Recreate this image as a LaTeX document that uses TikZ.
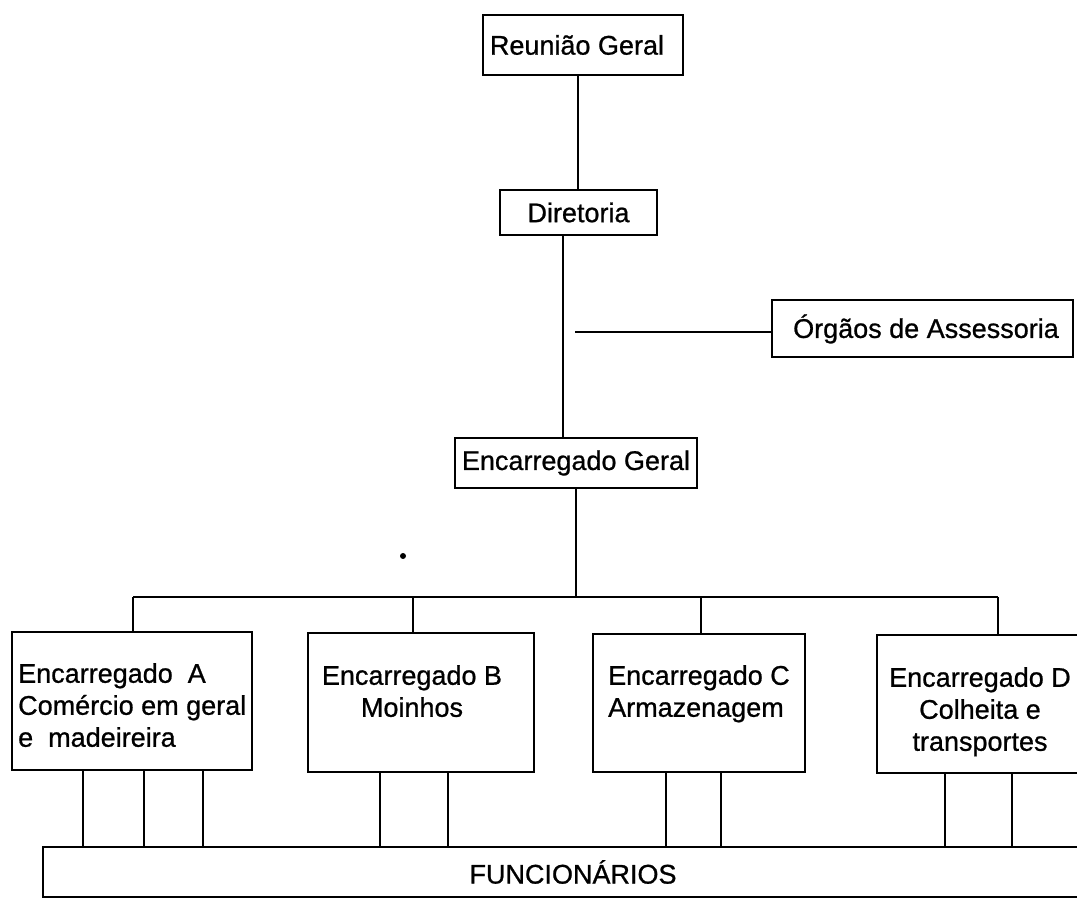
\documentclass[tikz,border=0pt]{standalone}
\usepackage{fontspec}
\setmainfont[FakeBold=0.8]{Liberation Sans}
\begin{document}
\begin{tikzpicture}[x=1pt,y=-1pt,
  box/.style={draw,line width=2.8pt,inner sep=0pt,anchor=center},
  conn/.style={line width=2.6pt},
  lbl/.style={inner sep=0pt,font=\fontsize{27}{32}\selectfont},
  every node/.style={font=\fontsize{27}{32}\selectfont}]
\useasboundingbox (0,0) rectangle (1077,901);
\clip (0,0) rectangle (1077,901);
% top boxes
\node[box,minimum width=200pt,minimum height=60pt] (R) at (583,45) {};
\node[lbl] (Rt) at (577,45) {Reunião Geral};
\node[box,minimum width=157pt,minimum height=45pt] (D) at (578.5,212.5) {Diretoria};
\node[box,minimum width=301pt,minimum height=57pt] (O) at (922.5,328.5) {};
\node[lbl] (Ot) at (926,329) {Órgãos de Assessoria};
\node[box,minimum width=242pt,minimum height=50pt] (EG) at (576,463) {Encarregado Geral};
% second level boxes
\node[box,minimum width=240pt,minimum height=138pt] (A) at (132,701) {};
\node[box,minimum width=226pt,minimum height=139pt] (B) at (421,702.5) {};
\node[box,minimum width=212pt,minimum height=138pt] (C) at (699,703) {};
\node[box,minimum width=208pt,minimum height=138pt] (Dd) at (981,704) {};
\node[lbl,anchor=north west,align=left] (At) at (18,663) {Encarregado\ \ A\\Comércio em geral\\e\ \ madeireira};
\node[lbl,anchor=north,align=center] (Bt) at (412,665) {Encarregado B\\Moinhos};
\node[lbl,anchor=north west,align=left] (Ct) at (608,665) {Encarregado C\\Armazenagem};
\node[lbl,anchor=north,align=center] (Dt) at (980,667) {Encarregado D\\Colheita e\\transportes};
% bottom box
\node[box,minimum width=1060pt,minimum height=50pt] (F) at (573,872) {FUNCIONÁRIOS};
% connectors
\coordinate (x1) at (578,0);
\coordinate (x2) at (563,0);
\draw[conn] (R.south -| x1) -- (D.north -| x1);
\draw[conn] (D.south -| x2) -- (EG.north -| x2);
\coordinate (og) at (575,332);
\draw[conn] (og) -- (og -| O.west);
\coordinate (bus) at (576,597);
\draw[conn] (EG.south -| bus) -- (bus);
\coordinate (dA) at (133,0);
\coordinate (dB) at (413,0);
\coordinate (dC) at (701,0);
\coordinate (dD) at (998,0);
\draw[conn] (dA |- bus) -- (dD |- bus);
\draw[conn] (dA |- bus) -- (dA |- A.north);
\draw[conn] (dB |- bus) -- (dB |- B.north);
\draw[conn] (dC |- bus) -- (dC |- C.north);
\draw[conn] (dD |- bus) -- (dD |- Dd.north);
% bottom drops
\foreach \n/\x in {A/83,A/144,A/203,B/380,B/448,C/666,C/721,Dd/945,Dd/1012}{
  \coordinate (bx) at (\x,0);
  \draw[conn] (bx |- \n.south) -- (bx |- F.north);
}
% stray dot
\fill (403,556) circle (3pt);
\end{tikzpicture}
\end{document}
